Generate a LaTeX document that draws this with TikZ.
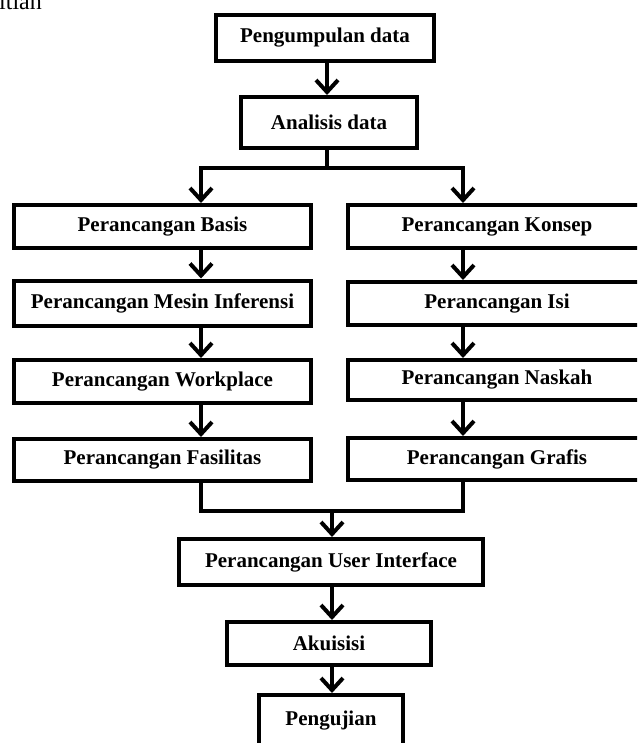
\documentclass[tikz,border=0pt]{standalone}
\usepackage{fontspec}
\setmainfont{Liberation Serif}
\usetikzlibrary{arrows.meta}
\tikzset{
  box/.style={draw=black, line width=4pt, rectangle, inner sep=0pt, fill=white,
    font=\fontsize{21}{22}\selectfont\bfseries, align=center},
  conn/.style={draw=black, line width=4pt},
  arr/.style={draw=black, line width=4pt, -{Straight Barb[length=12pt,width=22pt,line width=4pt]}}
}
\begin{document}
\begin{tikzpicture}[x=1pt,y=-1pt]
\useasboundingbox (0,0) rectangle (637,743);
\clip (0,0) rectangle (637,743);
\fill[white] (0,0) rectangle (637,743);

\node[anchor=base west, font=\fontsize{24}{26}\selectfont, inner sep=0pt] (top) at (-1,10) {itian};

% column x positions
\coordinate (cx) at (327,0);
\coordinate (lx) at (201,0);
\coordinate (rx) at (463,0);
\coordinate (mx) at (332,0);

\node[box, minimum width=218, minimum height=46] (p1) at (325,38) {Pengumpulan data};
\node[box, minimum width=176, minimum height=51] (an) at (329,122.5) {Analisis data};

\node[box, minimum width=297, minimum height=43] (basis) at (162.5,226.5) {Perancangan Basis};
\node[box, minimum width=297, minimum height=45] (mesin) at (162.5,303) {Perancangan Mesin Inferensi};
\node[box, minimum width=297, minimum height=43] (work) at (162.5,381.5) {Perancangan Workplace};
\node[box, minimum width=297, minimum height=42] (fas) at (162.5,460) {Perancangan Fasilitas};

\node[box, minimum width=310, minimum height=43] (konsep) at (503,226.5) {\hspace*{-12pt}Perancangan Konsep};
\node[box, minimum width=310, minimum height=43] (isi) at (503,303.5) {\hspace*{-12pt}Perancangan Isi};
\node[box, minimum width=310, minimum height=40] (naskah) at (503,380) {\hspace*{-12pt}Perancangan Naskah};
\node[box, minimum width=310, minimum height=42] (grafis) at (503,459) {\hspace*{-12pt}Perancangan Grafis};

\node[box, minimum width=304, minimum height=46] (ui) at (331,562) {Perancangan User Interface};
\node[box, minimum width=204, minimum height=43] (ak) at (329,643.5) {Akuisisi};
\node[box, minimum width=144, minimum height=51, text depth=0pt] (uji) at (331,720.5) {\raisebox{4pt}{Pengujian}};

% top
\draw[arr] (p1.south -| cx) -- (an.north -| cx);
\coordinate (split) at (327,168);
\draw[conn] (an.south -| cx) -- (split);
\draw[arr] (split) -| (basis.north -| lx);
\draw[arr] (split) -| (konsep.north -| rx);

% left column
\draw[arr] (basis.south -| lx) -- (mesin.north -| lx);
\draw[arr] (mesin.south -| lx) -- (work.north -| lx);
\draw[arr] (work.south -| lx) -- (fas.north -| lx);

% right column
\draw[arr] (konsep.south -| rx) -- (isi.north -| rx);
\draw[arr] (isi.south -| rx) -- (naskah.north -| rx);
\draw[arr] (naskah.south -| rx) -- (grafis.north -| rx);

% merge
\coordinate (merge) at (332,511);
\draw[conn] (fas.south -| lx) -- (lx |- merge) -- (rx |- merge) -- (grafis.south -| rx);
\draw[arr] (merge) -- (ui.north -| mx);

% bottom
\draw[arr] (ui.south -| mx) -- (ak.north -| mx);
\draw[arr] (ak.south -| mx) -- (uji.north -| mx);
\end{tikzpicture}
\end{document}
